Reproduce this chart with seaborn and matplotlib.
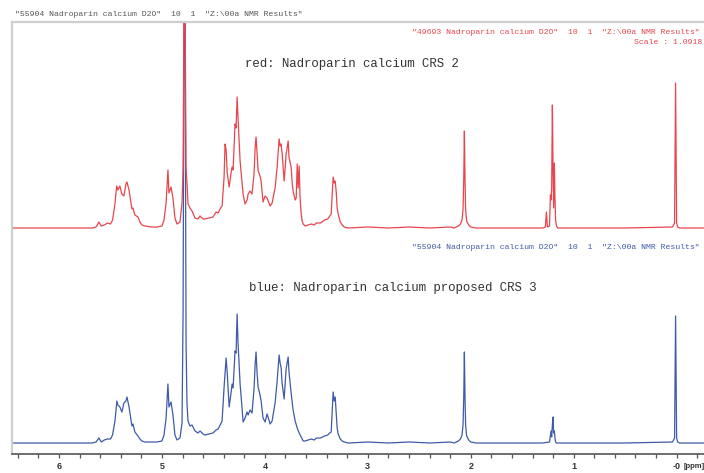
import matplotlib
matplotlib.use("Agg")
import matplotlib.pyplot as plt
from matplotlib.ticker import FixedLocator, FixedFormatter, MultipleLocator
import seaborn as sns
import pandas as pd

# ---------------- data ----------------
red_ppm = [6.46, 5.68, 5.64, 5.613, 5.59, 5.56, 5.53, 5.50, 5.48, 5.457, 5.44, 5.428, 5.409, 5.39, 5.37,
           5.35, 5.34, 5.32, 5.30, 5.292, 5.282, 5.263, 5.233, 5.214, 5.195, 5.165, 5.10, 5.05, 5.00, 4.98,
           4.96, 4.942, 4.932, 4.912, 4.893, 4.874, 4.854, 4.825, 4.805, 4.795, 4.785, 4.776, 4.766, 4.757,
           4.747, 4.728, 4.708, 4.679, 4.650, 4.630, 4.601, 4.582, 4.543, 4.504, 4.475, 4.455, 4.436, 4.416,
           4.397, 4.387, 4.377, 4.366, 4.347, 4.329, 4.319, 4.309, 4.290, 4.280, 4.270, 4.261, 4.241, 4.222,
           4.212, 4.193, 4.173, 4.163, 4.144, 4.125, 4.105, 4.095, 4.086, 4.076, 4.066, 4.047, 4.037, 4.018,
           3.998, 3.979, 3.949, 3.930, 3.920, 3.901, 3.881, 3.862, 3.852, 3.842, 3.833, 3.813, 3.803, 3.794,
           3.784, 3.774, 3.765, 3.745, 3.735, 3.726, 3.706, 3.696, 3.686, 3.677, 3.667, 3.658, 3.648, 3.638,
           3.628, 3.609, 3.58, 3.55, 3.52, 3.50, 3.46, 3.42, 3.39, 3.37, 3.356, 3.337, 3.327, 3.317, 3.307,
           3.298, 3.288, 3.268, 3.249, 3.23, 3.19, 3.0, 2.8, 2.6, 2.4, 2.2, 2.16, 2.12, 2.10, 2.085, 2.075,
           2.068, 2.062, 2.056, 2.050, 2.04, 2.02, 2.00, 1.95, 1.6, 1.3, 1.275, 1.265, 1.255, 1.235, 1.226,
           1.220, 1.214, 1.207, 1.201, 1.195, 1.188, 1.182, 1.176, 1.167, 1.155, 1.0, 0.5, 0.04, 0.02, 0.01,
           0.0, -0.01, -0.03, -0.27]
red_int = [0, 0, 1, 6, 2, 3, 5, 4, 8, 24, 42, 38, 42, 34, 32,
           44, 46, 38, 24, 19, 20, 13, 11, 6, 3, 2, 1, 1, 2, 8,
           25, 58, 35, 41, 30, 10, 4, 6, 25, 60, 240, 240, 60, 45,
           24, 20, 17, 10, 9, 12, 9, 9, 10, 11, 16, 15, 19, 22,
           50, 84, 78, 55, 41, 55, 61, 58, 104, 100, 131, 110, 67, 45,
           34, 24, 28, 34, 37, 34, 55, 80, 91, 75, 57, 52, 47, 26,
           32, 30, 22, 25, 30, 40, 61, 89, 82, 84, 75, 47, 60, 74,
           80, 87, 70, 61, 45, 37, 28, 30, 64, 40, 62, 30, 15, 7,
           4, 2, 3, 4, 3, 5, 5, 8, 9, 12, 14, 51, 45, 47, 36,
           20, 14, 6, 3, 1, 0, 1, 0, 1, 0, 1, 0, 2, 4, 8, 18,
           50, 97, 50, 18, 7, 3, 1, 0, 0, 0, 1, 16, 1, 2, 33,
           28, 40, 123, 60, 20, 65, 30, 8, 2, 0, 0, 0, 1, 5,
           145, 5, 1, 0, 0]

blue_ppm = [6.46, 5.68, 5.64, 5.613, 5.59, 5.56, 5.53, 5.50, 5.48, 5.457, 5.438, 5.428, 5.409, 5.389, 5.37,
            5.35, 5.34, 5.32, 5.30, 5.292, 5.282, 5.263, 5.233, 5.214, 5.195, 5.165, 5.10, 5.05, 5.00, 4.98,
            4.96, 4.942, 4.932, 4.912, 4.893, 4.874, 4.854, 4.825, 4.805, 4.795, 4.785, 4.776, 4.766, 4.757,
            4.747, 4.728, 4.708, 4.679, 4.650, 4.630, 4.601, 4.582, 4.543, 4.504, 4.475, 4.455, 4.436, 4.416,
            4.397, 4.377, 4.366, 4.347, 4.329, 4.319, 4.309, 4.290, 4.280, 4.270, 4.261, 4.241, 4.222,
            4.212, 4.193, 4.173, 4.163, 4.144, 4.125, 4.105, 4.095, 4.086, 4.076, 4.066, 4.047, 4.037, 4.018,
            3.998, 3.979, 3.949, 3.930, 3.920, 3.901, 3.881, 3.862, 3.852, 3.842, 3.833, 3.813, 3.803, 3.794,
            3.784, 3.774, 3.765, 3.745, 3.726, 3.706, 3.686, 3.667, 3.648, 3.628, 3.609, 3.58, 3.55, 3.52,
            3.50, 3.46, 3.42, 3.39, 3.37, 3.356, 3.337, 3.327, 3.317, 3.307, 3.298, 3.288, 3.268, 3.249,
            3.23, 3.19, 3.0, 2.8, 2.6, 2.4, 2.2, 2.16, 2.12, 2.10, 2.085, 2.075, 2.068, 2.062, 2.056, 2.050,
            2.04, 2.02, 2.00, 1.95, 1.6, 1.3, 1.235, 1.226, 1.220, 1.214, 1.207, 1.201, 1.195, 1.188, 1.182,
            1.176, 1.167, 1.0, 0.5, 0.04, 0.02, 0.01, 0.0, -0.01, -0.03, -0.27]
blue_int = [0, 0, 1, 5, 1, 3, 4, 4, 8, 22, 42, 38, 36, 31, 40,
            42, 46, 36, 22, 17, 19, 11, 7, 4, 2, 1, 1, 1, 2, 8,
            25, 59, 36, 41, 28, 8, 3, 5, 20, 130, 450, 450, 100, 40,
            22, 17, 18, 12, 10, 12, 9, 8, 9, 10, 13, 14, 18, 22,
            55, 85, 70, 36, 50, 59, 55, 92, 90, 129, 100, 59, 35,
            21, 25, 31, 28, 33, 30, 55, 78, 91, 70, 56, 48, 42, 25,
            21, 29, 19, 22, 28, 40, 62, 88, 80, 75, 60, 44, 60, 74,
            80, 86, 70, 50, 33, 22, 15, 10, 6, 2, 2, 3, 4, 3,
            5, 5, 7, 8, 10, 11, 51, 42, 46, 30, 15, 9, 4, 2,
            1, 0, 1, 0, 1, 0, 1, 0, 2, 4, 8, 18, 46, 91, 46, 18,
            7, 3, 1, 0, 0, 0, 1, 8, 12, 6, 18, 26, 10, 12, 5,
            1, 0, 0, 0, 1, 5, 127, 5, 1, 0, 0]

tick_values = [6, 5, 4, 3, 2, 1, 0]
tick_labels = ["6", "5", "4", "3", "2", "1", "-0"]

# ---------------- styling ----------------
RED = "#e8454c"
BLUE = "#3e5aa8"
RED_OFFSET = 215

sns.set_theme(style="white")
plt.rcParams["font.family"] = ["Liberation Mono", "DejaVu Sans Mono"]

W, H = 704, 473
fig = plt.figure(figsize=(W / 100, H / 100), dpi=100)
ax = fig.add_axes([12 / W, (H - 454) / H, (W - 12) / W, (454 - 22) / H])

red_df = pd.DataFrame({"ppm": red_ppm, "intensity": [v + RED_OFFSET for v in red_int]})
blue_df = pd.DataFrame({"ppm": blue_ppm, "intensity": blue_int})

sns.lineplot(data=blue_df, x="ppm", y="intensity", ax=ax, color=BLUE, linewidth=0.9,
             sort=False, estimator=None)
sns.lineplot(data=red_df, x="ppm", y="intensity", ax=ax, color=RED, linewidth=0.9,
             sort=False, estimator=None)

ax.set_xlim(6.457, -0.266)
ax.set_ylim(-11, 421)
ax.set_xlabel("")
ax.set_ylabel("")
ax.set_yticks([])

ax.xaxis.set_major_locator(FixedLocator(tick_values))
ax.xaxis.set_major_formatter(FixedFormatter(tick_labels))
ax.xaxis.set_minor_locator(MultipleLocator(0.2))
ax.tick_params(axis="x", which="both", bottom=True, direction="out", length=3.0,
               width=0.9, color="#555555", pad=2.5)
ax.tick_params(axis="x", which="major", labelsize=6.5, labelcolor="#333333")
for lbl in ax.get_xticklabels():
    lbl.set_family(["Liberation Sans", "DejaVu Sans"])
    lbl.set_fontweight("bold")

for side in ["top", "left"]:
    ax.spines[side].set_color("#cfcfcf")
    ax.spines[side].set_linewidth(1.6)
ax.spines["right"].set_visible(False)
ax.spines["bottom"].set_color("#555555")
ax.spines["bottom"].set_linewidth(1.2)

def ftext(x, y, s, **kw):
    fig.text(x / W, 1 - y / H, s, va="center", **kw)

hdr = '"55904 Nadroparin calcium D2O"  10  1  "Z:\\00a NMR Results"'
hdr_red = '"49693 Nadroparin calcium D2O"  10  1  "Z:\\00a NMR Results"'
ftext(15, 14, hdr, fontsize=5.9, color="#555555", ha="left")
ftext(412, 33, hdr_red, fontsize=5.9, color=RED, ha="left")
ftext(702, 43, "Scale : 1.0918", fontsize=5.9, color=RED, ha="right")
ftext(245, 64, "red: Nadroparin calcium CRS 2", fontsize=8.9, color="#333333", ha="left")
ftext(412, 247, hdr, fontsize=5.9, color=BLUE, ha="left")
ftext(249, 288, "blue: Nadroparin calcium proposed CRS 3", fontsize=8.9, color="#333333", ha="left")
ftext(684, 466, "[ppm]", fontsize=5.5, color="#333333", ha="left",
      family=["Liberation Sans", "DejaVu Sans"], fontweight="bold")

fig.savefig("out.png", dpi=100)
